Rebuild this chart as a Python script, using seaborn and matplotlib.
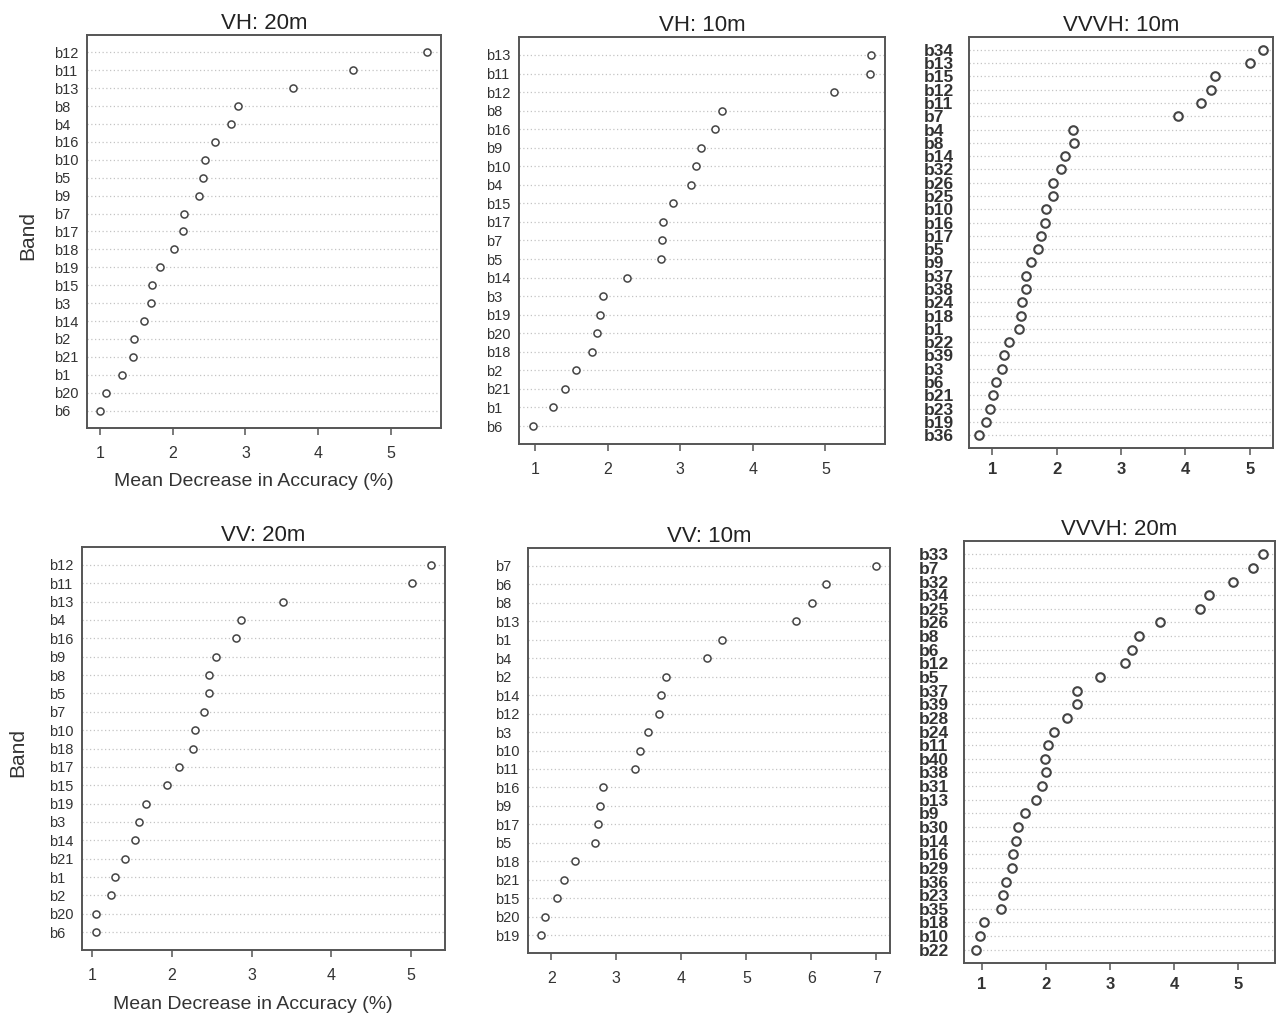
import matplotlib
matplotlib.use("Agg")
import matplotlib.pyplot as plt
import seaborn as sns
import pandas as pd

# values, top row of each dotchart first
vh20_bands = ["b12", "b11", "b13", "b8", "b4", "b16", "b10", "b5", "b9", "b7", "b17",
              "b18", "b19", "b15", "b3", "b14", "b2", "b21", "b1", "b20", "b6"]
vh20_values = [5.50, 4.48, 3.66, 2.90, 2.80, 2.58, 2.44, 2.42, 2.36, 2.16, 2.14,
               2.02, 1.83, 1.72, 1.70, 1.60, 1.47, 1.45, 1.30, 1.08, 1.00]

vh10_bands = ["b13", "b11", "b12", "b8", "b16", "b9", "b10", "b4", "b15", "b17", "b7",
              "b5", "b14", "b3", "b19", "b20", "b18", "b2", "b21", "b1", "b6"]
vh10_values = [5.63, 5.62, 5.12, 3.58, 3.48, 3.28, 3.22, 3.15, 2.90, 2.76, 2.75,
               2.74, 2.27, 1.93, 1.89, 1.85, 1.78, 1.56, 1.41, 1.25, 0.97]

vvvh10_bands = ["b34", "b13", "b15", "b12", "b11", "b7", "b4", "b8", "b14", "b32",
                "b26", "b25", "b10", "b16", "b17", "b5", "b9", "b37", "b38", "b24",
                "b18", "b1", "b22", "b39", "b3", "b6", "b21", "b23", "b19", "b36"]
vvvh10_values = [5.21, 5.00, 4.46, 4.40, 4.24, 3.88, 2.26, 2.27, 2.13, 2.07,
                 1.95, 1.95, 1.83, 1.82, 1.76, 1.71, 1.61, 1.53, 1.53, 1.46,
                 1.44, 1.42, 1.26, 1.19, 1.15, 1.06, 1.02, 0.97, 0.90, 0.79]

vv20_bands = ["b12", "b11", "b13", "b4", "b16", "b9", "b8", "b5", "b7", "b10", "b18",
              "b17", "b15", "b19", "b3", "b14", "b21", "b1", "b2", "b20", "b6"]
vv20_values = [5.25, 5.01, 3.40, 2.87, 2.80, 2.55, 2.47, 2.46, 2.40, 2.29, 2.26,
               2.09, 1.94, 1.68, 1.59, 1.53, 1.41, 1.29, 1.23, 1.05, 1.04]

vv10_bands = ["b7", "b6", "b8", "b13", "b1", "b4", "b2", "b14", "b12", "b3", "b10",
              "b11", "b16", "b9", "b17", "b5", "b18", "b21", "b15", "b20", "b19"]
vv10_values = [6.99, 6.23, 6.01, 5.77, 4.63, 4.40, 3.77, 3.69, 3.66, 3.48, 3.36,
               3.28, 2.79, 2.75, 2.71, 2.67, 2.36, 2.19, 2.09, 1.90, 1.84]

vvvh20_bands = ["b33", "b7", "b32", "b34", "b25", "b26", "b8", "b6", "b12", "b5",
                "b37", "b39", "b28", "b24", "b11", "b40", "b38", "b31", "b13", "b9",
                "b30", "b14", "b16", "b29", "b36", "b23", "b35", "b18", "b10", "b22"]
vvvh20_values = [5.39, 5.23, 4.92, 4.55, 4.41, 3.79, 3.45, 3.34, 3.24, 2.84,
                 2.49, 2.49, 2.33, 2.12, 2.04, 1.99, 2.00, 1.94, 1.84, 1.67,
                 1.57, 1.53, 1.49, 1.47, 1.37, 1.33, 1.30, 1.04, 0.97, 0.90]

XLABEL = "Mean Decrease in Accuracy (%)"
W, H = 1285, 1019

# title, bands, values, box in px (left, top, right, bottom), xlim, xticks, dense panel?, axis labels + ylabel x
panels = [
    ("VH: 20m", vh20_bands, vh20_values, (87, 35, 441, 428), (0.82, 5.69), [1, 2, 3, 4, 5], False, -0.167),
    ("VH: 10m", vh10_bands, vh10_values, (519, 37, 885, 444), (0.78, 5.82), [1, 2, 3, 4, 5], False, None),
    ("VVVH: 10m", vvvh10_bands, vvvh10_values, (969, 37, 1273, 448), (0.64, 5.36), [1, 2, 3, 4, 5], True, None),
    ("VV: 20m", vv20_bands, vv20_values, (82, 547, 445, 950), (0.87, 5.43), [1, 2, 3, 4, 5], False, -0.176),
    ("VV: 10m", vv10_bands, vv10_values, (528, 548, 890, 953), (1.64, 7.21), [2, 3, 4, 5, 6, 7], False, None),
    ("VVVH: 20m", vvvh20_bands, vvvh20_values, (964, 541, 1275, 963), (0.72, 5.58), [1, 2, 3, 4, 5], True, None),
]

sns.set_style("white")
plt.rcParams['font.family'] = ['Liberation Sans', 'DejaVu Sans']

fig = plt.figure(figsize=(W / 100, H / 100), dpi=100)
PX = 72 / 100  # points per pixel

for title, bands, values, box, xlim, xticks, dense, ylab_x in panels:
    left, top, right, bottom = box
    ax = fig.add_axes([left / W, 1 - bottom / H, (right - left) / W, (bottom - top) / H])
    df = pd.DataFrame({"band": bands, "value": values, "pos": range(len(bands))})
    n = len(bands)

    ax.grid(axis='y', color='#c4c4c4', linestyle=(0, (1, 2)), linewidth=0.9)
    ax.set_axisbelow(True)
    sns.scatterplot(data=df, x="value", y="pos", ax=ax, marker='o',
                    s=38 if dense else 26, facecolor='white',
                    edgecolor='#444444', linewidth=1.5 if dense else 1.1, zorder=3)

    ax.set_xlim(*xlim)
    ax.set_ylim(n - 1 + 0.97, -0.97)
    ax.set_xticks(xticks)
    ax.set_yticks(range(n))
    fsize = 12.5 if dense else 10.5
    weight = 'bold' if dense else 'normal'
    ax.set_yticklabels(bands, ha='left', fontsize=fsize, fontweight=weight, color='#333333')
    ax.set_xticklabels([str(t) for t in xticks], fontsize=12 if dense else 11.5,
                       fontweight=weight, color='#333333')
    ypad = (45 if dense else 33) * PX
    ax.tick_params(axis='y', length=0, pad=ypad)
    ax.tick_params(axis='x', length=5 * PX * 1.4, width=1.1, color='#555555',
                   direction='out', pad=(5 if dense else 8) * PX * 1.4, bottom=True)
    for sp in ax.spines.values():
        sp.set_color('#555555')
        sp.set_linewidth(1.4)

    ax.set_title(title, fontsize=16, color='#222222', pad=4)
    if ylab_x is not None:
        ax.set_xlabel(XLABEL, fontsize=14, color='#333333')
        ax.set_ylabel("Band", fontsize=15, color='#333333')
        ax.xaxis.label.set_va('center')
        ax.yaxis.label.set_va('center')
        ax.xaxis.set_label_coords(0.47, -0.135)
        ax.yaxis.set_label_coords(ylab_x, 0.49)
    else:
        ax.set_xlabel("")
        ax.set_ylabel("")

fig.savefig("out.png", dpi=100)
